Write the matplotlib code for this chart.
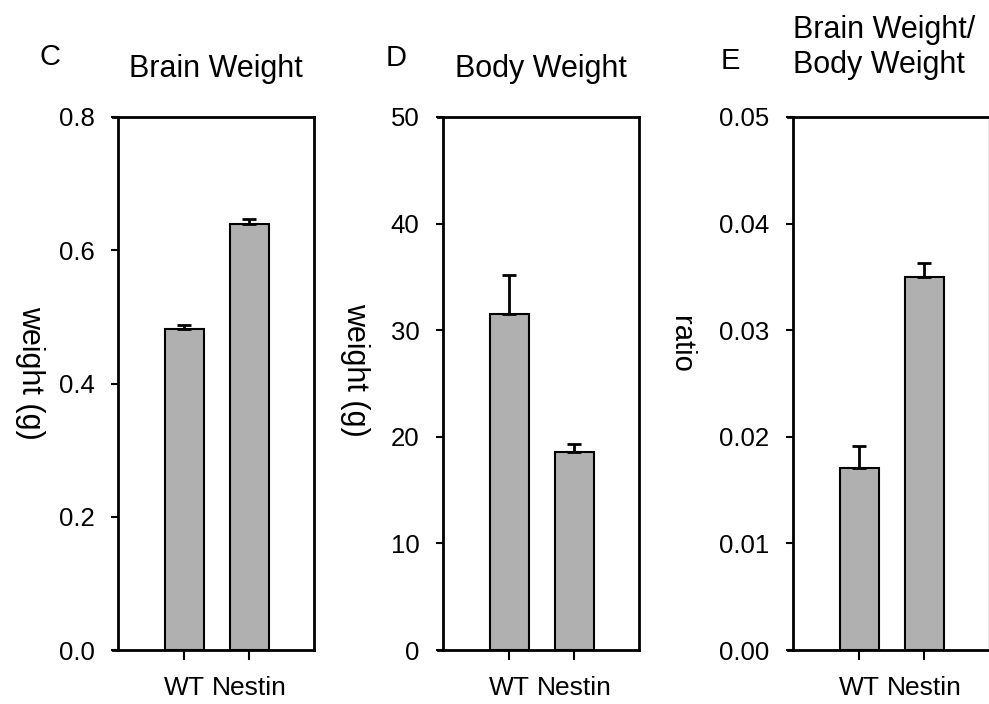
import matplotlib
matplotlib.use("Agg")
import matplotlib.pyplot as plt

plt.rcParams['font.family'] = ['Liberation Sans', 'DejaVu Sans']

groups = ["WT", "Nestin"]

brain_weight = [0.482, 0.640]
brain_weight_err = [0.006, 0.007]

body_weight = [31.5, 18.6]
body_weight_err = [3.7, 0.7]

ratio = [0.0171, 0.0350]
ratio_err = [0.0020, 0.0013]

panels = [
    dict(letter="C", title="Brain Weight", ylabel="weight (g)", vals=brain_weight,
         errs=brain_weight_err, ylim=(0, 0.8), yticks=[0.0, 0.2, 0.4, 0.6, 0.8],
         fmt="{:.1f}", left=118, ylab_x=30, ylab_y=373, ylab_size=22, letter_xy=(50, 57)),
    dict(letter="D", title="Body Weight", ylabel="weight (g)", vals=body_weight,
         errs=body_weight_err, ylim=(0, 50), yticks=[0, 10, 20, 30, 40, 50],
         fmt="{:d}", left=443, ylab_x=355, ylab_y=370, ylab_size=22, letter_xy=(396, 58)),
    dict(letter="E", title="Brain Weight/\nBody Weight", ylabel="ratio", vals=ratio,
         errs=ratio_err, ylim=(0, 0.05), yticks=[0.00, 0.01, 0.02, 0.03, 0.04, 0.05],
         fmt="{:.2f}", left=793, ylab_x=681, ylab_y=344, ylab_size=21, letter_xy=(730, 61)),
]

W, H = 989, 704
fig = plt.figure(figsize=(W / 100, H / 100), dpi=100)

ax_w = 196
top, bottom = 117, 650

for i, p in enumerate(panels):
    ax = fig.add_axes([p["left"] / W, (H - bottom) / H, ax_w / W, (bottom - top) / H])
    x = list(range(len(groups)))
    ax.bar(x, p["vals"], width=0.6, color="#b0b0b0", edgecolor="black", linewidth=1.5, zorder=2)
    ax.errorbar(x, p["vals"], yerr=[[0] * len(x), p["errs"]], fmt="none", ecolor="black",
                elinewidth=2, capsize=5, capthick=2, zorder=3)
    xl = (-1.02, 2.0)
    ax.set_xlim(*xl)
    ax.set_ylim(*p["ylim"])
    ax.set_yticks(p["yticks"])
    ax.set_yticklabels([p["fmt"].format(v) for v in p["yticks"]])
    ax.set_xticks(x)
    ax.set_xticklabels(groups)
    ax.tick_params(axis="y", direction="out", length=5, width=1.5, pad=12, labelsize=18.5)
    ax.tick_params(axis="x", direction="out", length=7, width=1.5, pad=11.5, labelsize=19)
    for s in ["left", "bottom", "top", "right"]:
        ax.spines[s].set_linewidth(2)
    ext = (xl[1] - xl[0]) * 5 / ax_w
    ax.spines["top"].set_bounds(xl[0] - ext, xl[1])
    ax.spines["bottom"].set_bounds(xl[0] - ext, xl[1])
    if i == 2:
        ax.spines["right"].set_color("#a0a0a0")
        ax.spines["right"].set_linewidth(1)
    ax.set_ylabel(p["ylabel"], rotation=-90, fontsize=p["ylab_size"], va="center", ha="center")
    ax.yaxis.set_label_coords((p["ylab_x"] - p["left"]) / ax_w, (bottom - p["ylab_y"]) / (bottom - top))
    if i < 2:
        ax.set_title(p["title"], fontsize=22, pad=28.5)
    else:
        ax.set_title(p["title"], fontsize=22, pad=32, loc="left", ha="left", linespacing=1.18)
    fig.text(p["letter_xy"][0] / W, 1 - p["letter_xy"][1] / H, p["letter"], fontsize=21,
             ha="center", va="center")

fig.savefig("out.png", dpi=100)
